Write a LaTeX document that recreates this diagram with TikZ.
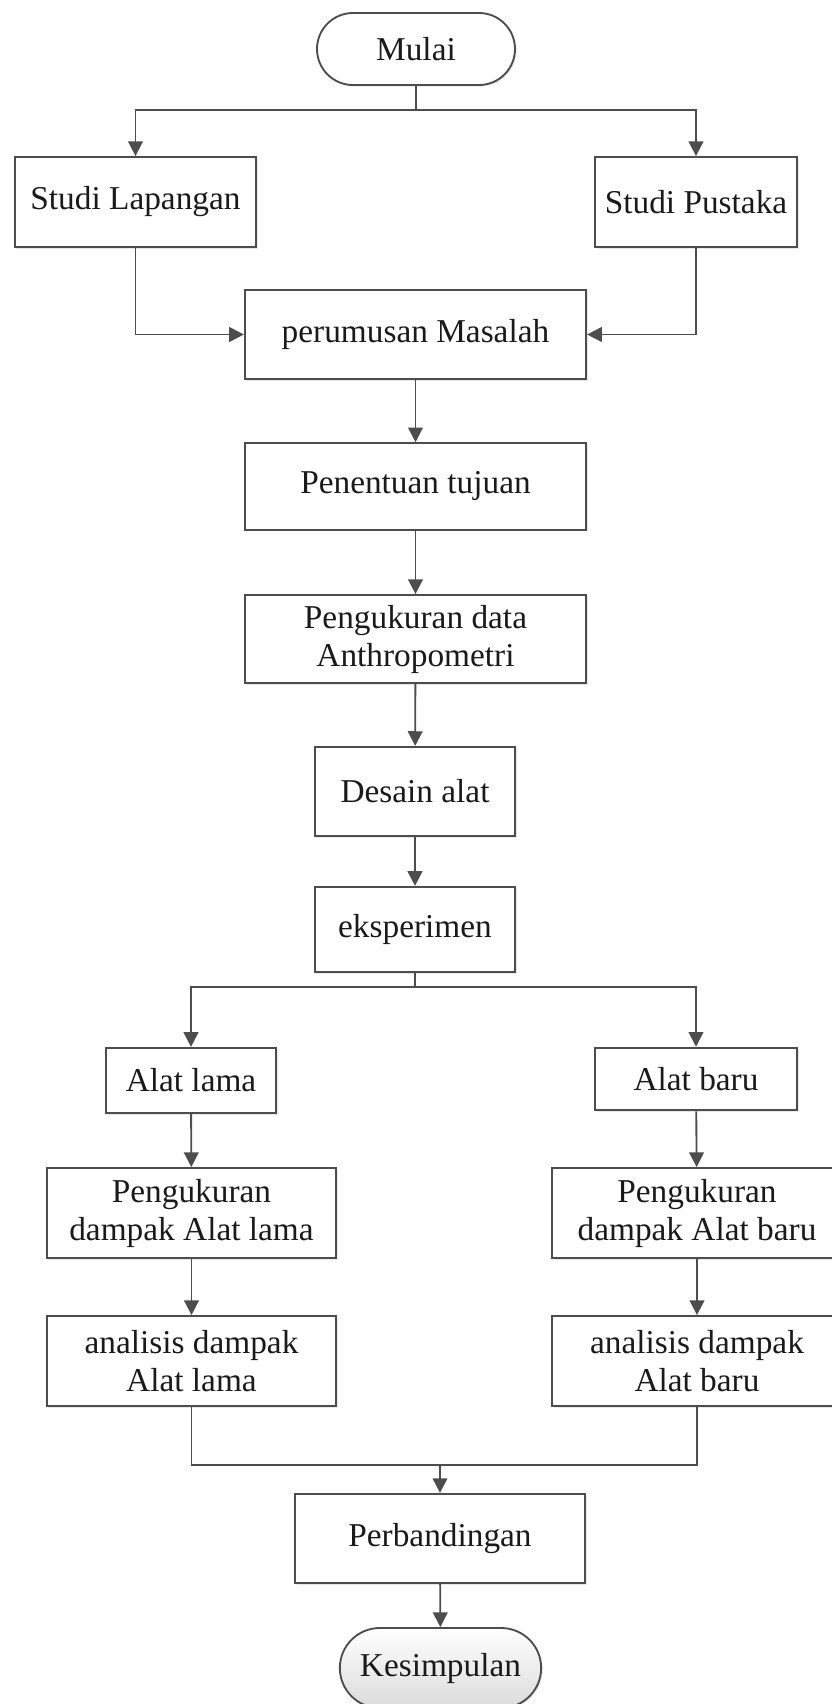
\documentclass[tikz,border=0pt]{standalone}
\usepackage{fontspec}
\setmainfont{Liberation Serif}
\usetikzlibrary{arrows.meta,shadows}

\definecolor{linegray}{RGB}{77,77,77}
\definecolor{textgray}{RGB}{26,26,26}

\tikzset{every picture/.style={line width=0.75pt}}
\tikzset{
  box/.style={draw=linegray, line width=1.4pt, fill=white, align=center, inner sep=0pt,
    text=textgray, font=\fontsize{25}{28.5}\selectfont,
    drop shadow={opacity=0.18, shadow xshift=1.2pt, shadow yshift=-1.2pt}},
  terminal/.style={box, rounded corners=27pt},
  link/.style={draw=linegray, line width=1.4pt},
  arr/.style={link, -{Triangle[length=11pt,width=11pt]}},
}

\begin{document}
\begin{tikzpicture}[x=0.75pt,y=0.75pt,yscale=-1,xscale=1]
\useasboundingbox (0,0) rectangle (832,1704);

%Terminal: start
\node [terminal, minimum width=148.5pt, minimum height=54pt] (mulai) at (416,49) {Mulai};
%Studies
\node [box, minimum width=181pt, minimum height=67.5pt] (lapangan) at (135.5,202) {Studi Lapangan};
\node [box, minimum width=151.5pt, minimum height=67.5pt] (pustaka) at (696,202) {Studi Pustaka};
%Main column
\node [box, minimum width=256pt, minimum height=67pt] (perumusan) at (415.5,334.5) {perumusan Masalah};
\node [box, minimum width=256pt, minimum height=65pt] (penentuan) at (415.5,486.5) {Penentuan tujuan};
\node [box, minimum width=256pt, minimum height=66pt] (antro) at (415.5,639) {Pengukuran data\\Anthropometri};
\node [box, minimum width=150pt, minimum height=67pt] (desain) at (415,791.5) {Desain alat};
\node [box, minimum width=150pt, minimum height=64pt] (eksperimen) at (415,929.5) {eksperimen};
%Left branch
\node [box, minimum width=127.5pt, minimum height=49pt] (alatlama) at (191,1080.5) {Alat lama};
\node [box, minimum width=217pt, minimum height=67.5pt] (ukurlama) at (191.5,1213) {Pengukuran\\dampak Alat lama};
\node [box, minimum width=217pt, minimum height=67.5pt] (anlama) at (191.5,1361) {analisis dampak\\Alat lama};
%Right branch
\node [box, minimum width=151.5pt, minimum height=47pt] (alatbaru) at (696,1079) {Alat baru};
\node [box, minimum width=217.5pt, minimum height=67.5pt] (ukurbaru) at (697,1213) {Pengukuran\\dampak Alat baru};
\node [box, minimum width=217.5pt, minimum height=67.5pt] (anbaru) at (697,1361) {analisis dampak\\Alat baru};
%End
\node [box, minimum width=217.5pt, minimum height=67pt] (banding) at (440,1538.5) {Perbandingan};
\node [terminal, rounded corners=30pt, minimum width=151pt, minimum height=60pt,
  top color=white, bottom color=gray!28] (kesimpulan) at (440.5,1668) {Kesimpulan};

% Branch points
\coordinate (split1) at (416,110);
\coordinate (split2) at (415,987);
\coordinate (merge) at (440,1465);

% Connectors
\draw [link] (mulai) -- (split1);
\draw [arr] (split1) -| (lapangan);
\draw [arr] (split1) -| (pustaka);
\draw [arr] (lapangan) |- (perumusan);
\draw [arr] (pustaka) |- (perumusan);
\draw [arr] (perumusan) -- (penentuan);
\draw [arr] (penentuan) -- (antro);
\draw [arr] (antro) -- (desain);
\draw [arr] (desain) -- (eksperimen);
\draw [link] (eksperimen) -- (split2);
\draw [arr] (split2) -| (alatlama);
\draw [arr] (split2) -| (alatbaru);
\draw [arr] (alatlama) -- (ukurlama);
\draw [arr] (ukurlama) -- (anlama);
\draw [arr] (alatbaru) -- (ukurbaru);
\draw [arr] (ukurbaru) -- (anbaru);
\draw [link] (anlama) |- (merge);
\draw [link] (anbaru) |- (merge);
\draw [arr] (merge) -- (banding);
\draw [arr] (banding) -- (kesimpulan);

\end{tikzpicture}
\end{document}
